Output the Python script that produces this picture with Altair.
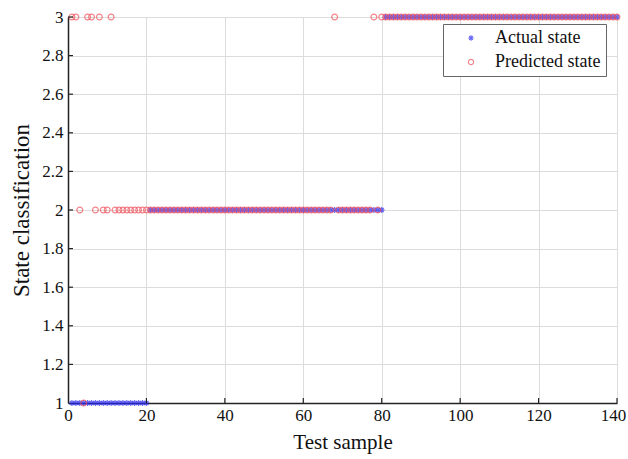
import altair as alt
import pandas as pd

samples = list(range(1, 141))

actual_state = [
    1, 1, 1, 1, 1, 1, 1, 1, 1, 1, 1, 1, 1, 1, 1, 1, 1, 1, 1, 1,
    2, 2, 2, 2, 2, 2, 2, 2, 2, 2, 2, 2, 2, 2, 2, 2, 2, 2, 2, 2,
    2, 2, 2, 2, 2, 2, 2, 2, 2, 2, 2, 2, 2, 2, 2, 2, 2, 2, 2, 2,
    2, 2, 2, 2, 2, 2, 2, 2, 2, 2, 2, 2, 2, 2, 2, 2, 2, 2, 2, 2,
    3, 3, 3, 3, 3, 3, 3, 3, 3, 3, 3, 3, 3, 3, 3, 3, 3, 3, 3, 3,
    3, 3, 3, 3, 3, 3, 3, 3, 3, 3, 3, 3, 3, 3, 3, 3, 3, 3, 3, 3,
    3, 3, 3, 3, 3, 3, 3, 3, 3, 3, 3, 3, 3, 3, 3, 3, 3, 3, 3, 3,
]

predicted_state = [
    3, 3, 2, 1, 3, 3, 2, 3, 2, 2, 3, 2, 2, 2, 2, 2, 2, 2, 2, 2,
    2, 2, 2, 2, 2, 2, 2, 2, 2, 2, 2, 2, 2, 2, 2, 2, 2, 2, 2, 2,
    2, 2, 2, 2, 2, 2, 2, 2, 2, 2, 2, 2, 2, 2, 2, 2, 2, 2, 2, 2,
    2, 2, 2, 2, 2, 2, 2, 3, 2, 2, 2, 2, 2, 2, 2, 2, 2, 3, 2, 3,
    3, 3, 3, 3, 3, 3, 3, 3, 3, 3, 3, 3, 3, 3, 3, 3, 3, 3, 3, 3,
    3, 3, 3, 3, 3, 3, 3, 3, 3, 3, 3, 3, 3, 3, 3, 3, 3, 3, 3, 3,
    3, 3, 3, 3, 3, 3, 3, 3, 3, 3, 3, 3, 3, 3, 3, 3, 3, 3, 3, 3,
]

series_names = ["Actual state", "Predicted state"]
x_ticks = [0, 20, 40, 60, 80, 100, 120, 140]
y_ticks = [1.0, 1.2, 1.4, 1.6, 1.8, 2.0, 2.2, 2.4, 2.6, 2.8, 3.0]

rows = []
for s, v in zip(samples, actual_state):
    rows.append({"sample": s, "state": v, "series": series_names[0]})
for s, v in zip(samples, predicted_state):
    rows.append({"sample": s, "state": v, "series": series_names[1]})
df = pd.DataFrame(rows)

W, H = 549, 386
FONT = "Liberation Serif, Times New Roman, Times, serif"
ASTERISK = "M-1,0L1,0M0,-1L0,1M-0.7,-0.7L0.7,0.7M-0.7,0.7L0.7,-0.7"
XTITLE = "Test sample"
YTITLE = "State classification"

xscale = alt.Scale(domain=[0, 140], nice=False, zero=False)
yscale = alt.Scale(domain=[1, 3], nice=False, zero=False)

xaxis = alt.Axis(values=x_ticks, title=XTITLE, format="d",
                 ticks=False, labelPadding=4, titlePadding=8, labelOverlap=False,
                 labelFlush=False,
                 labelOffset={"condition": {"test": "datum.value == 140", "value": -4},
                              "value": 0},
                 domainColor="#222", domainWidth=1.5,
                 gridColor="#dcdcdc", labelFont=FONT, labelFontSize=17,
                 labelColor="#111", titleFont=FONT, titleFontSize=21,
                 titleFontWeight="normal", titleColor="#111")
yaxis = alt.Axis(values=y_ticks, title=YTITLE,
                 labelExpr="format(datum.value, '~g')",
                 ticks=False, labelPadding=5, titlePadding=8, labelOverlap=False,
                 labelFlush=False,
                 domainColor="#222", domainWidth=1.5,
                 gridColor="#dcdcdc", labelFont=FONT, labelFontSize=17,
                 labelColor="#111", titleFont=FONT, titleFontSize=23,
                 titleFontWeight="normal", titleColor="#111")

points = alt.Chart(df).mark_point(filled=False, strokeWidth=1.2).encode(
    x=alt.X("sample:Q", scale=xscale, axis=xaxis),
    y=alt.Y("state:Q", scale=yscale, axis=yaxis),
    color=alt.Color("series:N",
                    scale=alt.Scale(domain=series_names, range=["#2a2af0", "#f0505a"]),
                    legend=alt.Legend(title=None, orient="none", legendX=375, legendY=7,
                                      fillColor="white", strokeColor="#666",
                                      padding=5, rowPadding=6, symbolOffset=14,
                                      labelOffset=15, labelFont=FONT, labelFontSize=18,
                                      labelColor="#111", symbolSize=28,
                                      symbolStrokeWidth=1.2, labelLimit=300)),
    shape=alt.Shape("series:N",
                    scale=alt.Scale(domain=series_names, range=[ASTERISK, "circle"])),
    size=alt.value(34),
    order=alt.Order("series:N"),
)

xtick_df = pd.DataFrame({"t": x_ticks[1:]})
ytick_df = pd.DataFrame({"t": y_ticks[1:]})

xticks = alt.Chart(xtick_df).mark_rule(color="#222", strokeWidth=1.2).encode(
    x=alt.X("t:Q", scale=xscale, axis=xaxis),
    y=alt.value(H), y2=alt.value(H - 5),
)
yticks = alt.Chart(ytick_df).mark_rule(color="#222", strokeWidth=1.2).encode(
    y=alt.Y("t:Q", scale=yscale, axis=yaxis),
    x=alt.value(0), x2=alt.value(5),
)

chart = alt.layer(points, xticks, yticks).properties(
    width=W, height=H,
    autosize=alt.AutoSizeParams(type="none"),
    padding={"left": 68, "top": 17, "right": 11, "bottom": 56},
).configure_view(stroke=None).configure(background="white")

chart.save("out.html", embed_options={"renderer": "svg", "actions": False})
